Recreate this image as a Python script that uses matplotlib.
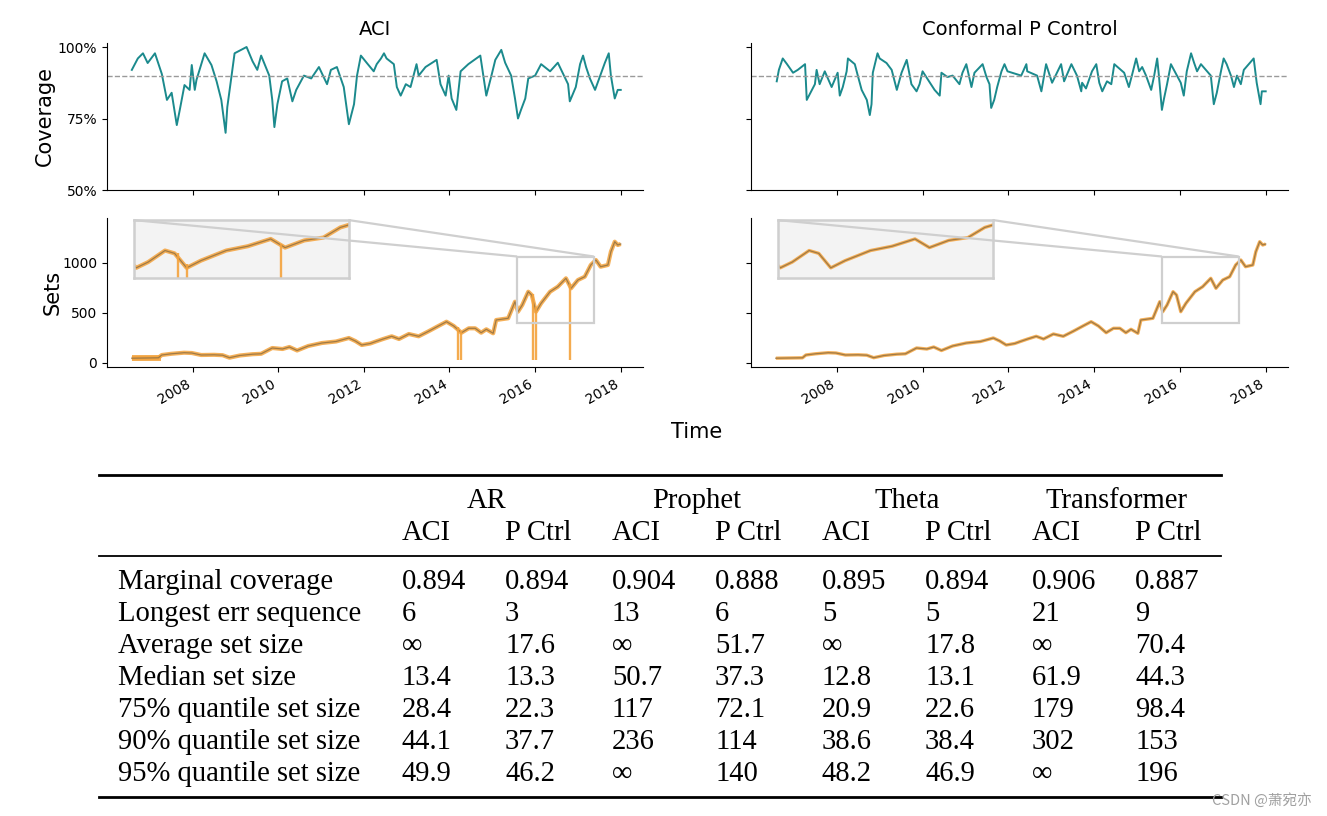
import matplotlib.pyplot as plt
import numpy as np
from mpl_toolkits.axes_grid1.inset_locator import mark_inset

# rolling coverage: (decimal year, coverage)
aci_cov = [(2006.58, 0.92), (2006.72, 0.96), (2006.84, 0.978), (2006.95, 0.944), (2007.12, 0.978),
           (2007.28, 0.906), (2007.40, 0.815), (2007.51, 0.84), (2007.63, 0.727), (2007.70, 0.78),
           (2007.81, 0.867), (2007.93, 0.85), (2007.98, 0.937), (2008.05, 0.85), (2008.09, 0.885),
           (2008.28, 0.978), (2008.44, 0.937), (2008.56, 0.88), (2008.67, 0.815), (2008.77, 0.70),
           (2008.81, 0.79), (2008.91, 0.90), (2008.98, 0.978), (2009.26, 1.0), (2009.40, 0.95),
           (2009.51, 0.92), (2009.60, 0.97), (2009.79, 0.90), (2009.86, 0.815), (2009.91, 0.72),
           (2009.98, 0.80), (2010.09, 0.88), (2010.21, 0.89), (2010.33, 0.81), (2010.42, 0.85),
           (2010.60, 0.90), (2010.77, 0.89), (2010.95, 0.93), (2011.14, 0.87), (2011.23, 0.92),
           (2011.37, 0.93), (2011.53, 0.86), (2011.65, 0.73), (2011.77, 0.80), (2011.84, 0.90),
           (2011.93, 0.97), (2012.07, 0.944), (2012.23, 0.915), (2012.30, 0.94), (2012.40, 0.96),
           (2012.47, 0.978), (2012.53, 0.96), (2012.70, 0.94), (2012.77, 0.86), (2012.86, 0.83),
           (2012.98, 0.87), (2013.09, 0.86), (2013.23, 0.94), (2013.28, 0.90), (2013.44, 0.93),
           (2013.70, 0.955), (2013.79, 0.87), (2013.91, 0.83), (2013.98, 0.90), (2014.05, 0.82),
           (2014.16, 0.78), (2014.26, 0.915), (2014.44, 0.94), (2014.72, 0.97), (2014.79, 0.90),
           (2014.86, 0.83), (2014.98, 0.90), (2015.07, 0.955), (2015.21, 0.99), (2015.30, 0.945),
           (2015.44, 0.90), (2015.53, 0.82), (2015.60, 0.75), (2015.67, 0.78), (2015.77, 0.82),
           (2015.84, 0.89), (2016.00, 0.90), (2016.14, 0.94), (2016.35, 0.915), (2016.53, 0.945),
           (2016.77, 0.87), (2016.81, 0.81), (2016.95, 0.86), (2017.05, 0.94), (2017.12, 0.97),
           (2017.19, 0.93), (2017.28, 0.89), (2017.40, 0.85), (2017.63, 0.945), (2017.72, 0.978),
           (2017.77, 0.90), (2017.86, 0.82), (2017.93, 0.85), (2018.00, 0.85)]

pctrl_cov = [(2006.60, 0.88), (2006.65, 0.92), (2006.74, 0.96), (2006.84, 0.94), (2006.98, 0.91),
             (2007.09, 0.92), (2007.26, 0.94), (2007.30, 0.815), (2007.49, 0.87), (2007.53, 0.92),
             (2007.60, 0.87), (2007.72, 0.915), (2007.88, 0.86), (2008.02, 0.91), (2008.07, 0.83),
             (2008.14, 0.86), (2008.23, 0.915), (2008.26, 0.96), (2008.42, 0.94), (2008.49, 0.90),
             (2008.58, 0.85), (2008.70, 0.815), (2008.77, 0.762), (2008.81, 0.80), (2008.84, 0.91),
             (2008.95, 0.978), (2009.00, 0.96), (2009.16, 0.944), (2009.28, 0.92), (2009.40, 0.85),
             (2009.51, 0.91), (2009.63, 0.955), (2009.65, 0.94), (2009.74, 0.87), (2009.86, 0.845),
             (2009.93, 0.87), (2010.00, 0.915), (2010.28, 0.85), (2010.40, 0.83), (2010.44, 0.91),
             (2010.58, 0.895), (2010.70, 0.90), (2010.86, 0.87), (2010.93, 0.91), (2011.02, 0.94),
             (2011.14, 0.86), (2011.21, 0.91), (2011.40, 0.94), (2011.49, 0.895), (2011.56, 0.87),
             (2011.60, 0.787), (2011.67, 0.815), (2011.74, 0.86), (2011.84, 0.915), (2011.91, 0.94),
             (2011.98, 0.915), (2012.30, 0.90), (2012.42, 0.94), (2012.44, 0.915), (2012.67, 0.90),
             (2012.77, 0.845), (2012.88, 0.94), (2013.02, 0.875), (2013.23, 0.94), (2013.30, 0.88),
             (2013.47, 0.94), (2013.60, 0.90), (2013.70, 0.845), (2013.72, 0.875), (2013.81, 0.855),
             (2013.95, 0.915), (2014.05, 0.94), (2014.12, 0.875), (2014.19, 0.845), (2014.30, 0.88),
             (2014.40, 0.87), (2014.47, 0.94), (2014.70, 0.91), (2014.81, 0.86), (2014.88, 0.90),
             (2014.98, 0.96), (2015.05, 0.915), (2015.12, 0.93), (2015.21, 0.90), (2015.33, 0.85),
             (2015.40, 0.90), (2015.47, 0.96), (2015.51, 0.90), (2015.58, 0.78), (2015.63, 0.82),
             (2015.70, 0.87), (2015.79, 0.94), (2015.86, 0.92), (2016.02, 0.875), (2016.09, 0.83),
             (2016.16, 0.915), (2016.26, 0.978), (2016.33, 0.945), (2016.40, 0.915), (2016.49, 0.94),
             (2016.72, 0.90), (2016.79, 0.80), (2016.86, 0.84), (2016.95, 0.91), (2017.02, 0.96),
             (2017.09, 0.94), (2017.19, 0.90), (2017.26, 0.86), (2017.33, 0.90), (2017.42, 0.87),
             (2017.49, 0.92), (2017.72, 0.96), (2017.79, 0.875), (2017.88, 0.80), (2017.91, 0.845),
             (2018.00, 0.845)]

# underlying series (centre of the sets)
price = [(2006.58, 48), (2006.90, 50), (2007.20, 52), (2007.28, 80), (2007.50, 92), (2007.80, 103),
         (2007.98, 100), (2008.20, 80), (2008.50, 82), (2008.70, 78), (2008.86, 53), (2009.10, 75),
         (2009.40, 88), (2009.60, 92), (2009.86, 150), (2010.10, 140), (2010.26, 160), (2010.44, 125),
         (2010.70, 170), (2011.02, 200), (2011.35, 215), (2011.65, 250), (2011.80, 220), (2011.95, 180),
         (2012.15, 195), (2012.28, 215), (2012.45, 240), (2012.65, 267), (2012.82, 240), (2013.05, 290),
         (2013.28, 267), (2013.51, 317), (2013.74, 370), (2013.93, 413), (2014.10, 370), (2014.28, 303),
         (2014.45, 347), (2014.60, 347), (2014.74, 303), (2014.86, 337), (2015.02, 297), (2015.09, 430),
         (2015.37, 447), (2015.53, 613), (2015.60, 513), (2015.70, 580), (2015.84, 713), (2015.92, 680),
         (2016.02, 513), (2016.14, 597), (2016.35, 713), (2016.53, 763), (2016.72, 847), (2016.84, 747),
         (2017.00, 830), (2017.16, 863), (2017.30, 980), (2017.42, 1030), (2017.53, 963), (2017.70, 980),
         (2017.77, 1113), (2017.86, 1213), (2017.93, 1180), (2018.00, 1190)]

# ACI sets that blow up (drawn as spikes) and the wide start
aci_spike_t = [2014.21, 2014.28, 2015.95, 2016.02, 2016.81]
aci_spike_top = [360, 320, 690, 560, 790]
aci_spike_low = 25
aci_wide_t = [2006.58, 2007.25]
aci_wide_lo = [22, 22]
aci_wide_hi = [82, 82]

target = 0.9
years = [2008, 2010, 2012, 2014, 2016, 2018]
zoom_x = (2015.58, 2017.37)
zoom_y = (395, 1065)

methods = ['AR', 'Prophet', 'Theta', 'Transformer']
sub_cols = ['ACI', 'P Ctrl']
row_names = ['Marginal coverage', 'Longest err sequence', 'Average set size', 'Median set size',
             '75% quantile set size', '90% quantile set size', '95% quantile set size']
table_vals = [
    ['0.894', '0.894', '0.904', '0.888', '0.895', '0.894', '0.906', '0.887'],
    ['6', '3', '13', '6', '5', '5', '21', '9'],
    ['∞', '17.6', '∞', '51.7', '∞', '17.8', '∞', '70.4'],
    ['13.4', '13.3', '50.7', '37.3', '12.8', '13.1', '61.9', '44.3'],
    ['28.4', '22.3', '117', '72.1', '20.9', '22.6', '179', '98.4'],
    ['44.1', '37.7', '236', '114', '38.6', '38.4', '302', '153'],
    ['49.9', '46.2', '∞', '140', '48.2', '46.9', '∞', '196'],
]

teal = '#1b8a8d'
orange = '#f3a23c'
brown = '#a07a45'
box_col = '#cfcfcf'

W, H = 1327, 816
fig = plt.figure(figsize=(W / 100, H / 100), dpi=100)


def px(x0, y0, x1, y1):
    # pixel box -> figure fractions
    return [x0 / W, 1 - y1 / H, (x1 - x0) / W, (y1 - y0) / H]


def draw_sets(ax, with_spikes):
    t, v = zip(*price)
    ax.plot(t, v, color=orange, lw=3.0 if with_spikes else 2.4, alpha=0.85, solid_capstyle='butt')
    ax.plot(t, v, color=brown, lw=0.9)
    if with_spikes:
        ax.fill_between(aci_wide_t, aci_wide_lo, aci_wide_hi, color=orange, alpha=0.85, lw=0)
        ax.vlines(aci_spike_t, aci_spike_low, aci_spike_top, color=orange, lw=1.7, alpha=0.9)


panels = [
    ('ACI', aci_cov, True, 107, 643),
    ('Conformal P Control', pctrl_cov, False, 751, 1288),
]

for i, (title, cov, spikes, x0, x1) in enumerate(panels):
    ax_c = fig.add_axes(px(x0, 43, x1, 190))
    ax_s = fig.add_axes(px(x0, 218, x1, 367))

    t, c = zip(*cov)
    ax_c.plot(t, c, color=teal, lw=1.4)
    ax_c.axhline(target, color='#9a9a9a', ls='--', lw=1)
    ax_c.set_ylim(0.5, 1.014)
    ax_c.set_yticks([0.5, 0.75, 1.0])
    ax_c.set_title(title, fontsize=14, pad=6)

    draw_sets(ax_s, spikes)
    ax_s.set_ylim(-40, 1450)
    ax_s.set_yticks([0, 500, 1000])

    for ax in (ax_c, ax_s):
        ax.set_xlim(2006.0, 2018.52)
        ax.set_xticks(years)
        ax.spines['top'].set_visible(False)
        ax.spines['right'].set_visible(False)
        ax.tick_params(labelsize=10)

    ax_c.set_xticklabels([])
    ax_s.set_xticklabels([str(y) for y in years], rotation=30, ha='right')

    if i == 0:
        ax_c.set_yticklabels(['50%', '75%', '100%'])
        ax_c.set_ylabel('Coverage', fontsize=15, labelpad=2)
        ax_s.set_ylabel('Sets', fontsize=15, labelpad=0)
    else:
        ax_c.set_yticklabels([])
        ax_s.set_yticklabels([])

    axins = ax_s.inset_axes([0.05, 0.597, 0.401, 0.389])
    draw_sets(axins, spikes)
    axins.set_xlim(*zoom_x)
    axins.set_ylim(*zoom_y)
    axins.set_facecolor('#f3f3f3')
    axins.set_xticks([])
    axins.set_yticks([])
    for sp in axins.spines.values():
        sp.set_color(box_col)
        sp.set_linewidth(1.8)
    mark_inset(ax_s, axins, loc1=1, loc2=2, fc='none', ec=box_col, lw=1.6, zorder=6)

fig.text(697 / W, 1 - 432 / H, 'Time', ha='center', va='center', fontsize=15)

# table
serif = ['Liberation Serif', 'DejaVu Serif']
fs = 20.6
col_x = [402, 505, 612, 715, 822, 925, 1032, 1135]
group_x = [487, 697, 907, 1117]
row_y = [582, 614, 646, 678, 710, 742, 774]


def ftext(x, y, s, **kw):
    fig.text(x / W, 1 - y / H, s, va='center', family=serif, fontsize=fs, **kw)


for g, gx in zip(methods, group_x):
    ftext(gx, 501, g, ha='center')
for j, cx in enumerate(col_x):
    ftext(cx, 533, sub_cols[j % 2], ha='left')
for name, vals, ry in zip(row_names, table_vals, row_y):
    ftext(118, ry, name, ha='left')
    for v, cx in zip(vals, col_x):
        ftext(cx, ry, v, ha='left')

for y, lw in [(475, 2.0), (556, 1.3), (797, 2.0)]:
    fig.add_artist(plt.Line2D([99 / W, 1221 / W], [1 - y / H, 1 - y / H], color='black', lw=lw))

fig.text(1312 / W, 1 - 800 / H, 'CSDN @萧宛亦', ha='right', va='center', fontsize=10.5, color='#a0a0a0',
         family=['Noto Sans CJK SC', 'DejaVu Sans'])

fig.savefig('out.png', dpi=100)
